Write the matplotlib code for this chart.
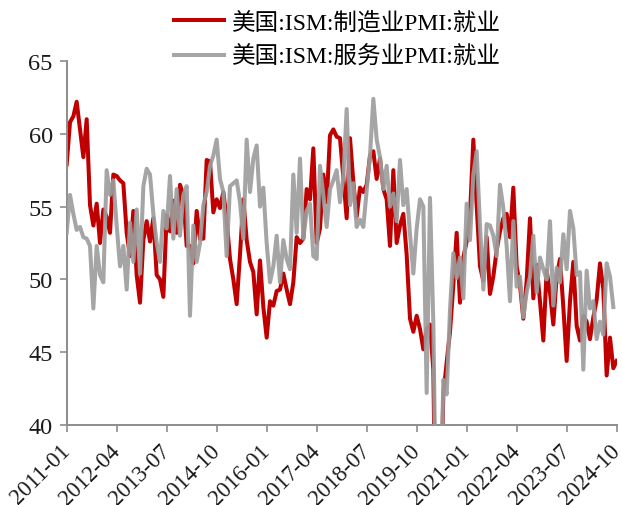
import matplotlib
matplotlib.use("Agg")
import matplotlib.pyplot as plt
import numpy as np

# ISM employment sub-indices, monthly from 2011-01
mfg_emp = [
    57.9, 60.8, 61.2, 62.2, 60.3, 58.4, 61.0, 55.1, 53.7, 55.2, 52.5, 54.8,
    54.3, 53.2, 57.2, 57.1, 56.8, 56.6, 53.2, 51.6, 54.7, 50.3, 48.4, 52.7,
    54.0, 52.6, 54.2, 50.3, 50.0, 48.8, 54.4, 53.3, 55.4, 53.2, 56.5, 55.8,
    52.3, 52.3, 51.1, 54.7, 52.8, 52.8, 58.2, 58.1, 54.6, 55.5, 54.9, 56.0,
    54.1, 51.4, 50.0, 48.3, 51.7, 55.5, 52.7, 51.2, 50.5, 47.6, 51.3, 48.1,
    46.0, 48.5, 48.2, 49.2, 49.3, 50.4, 49.3, 48.3, 49.8, 52.9, 52.5, 52.8,
    56.2, 55.5, 59.0, 52.5, 53.5, 57.2, 55.3, 59.9, 60.3, 59.8, 59.7, 57.0,
    54.2, 59.7, 56.7, 54.3, 56.3, 56.0, 56.5, 58.5, 58.8, 56.9, 58.3, 56.2,
    55.5, 52.3, 57.5, 52.5, 53.7, 54.5, 51.7, 47.3, 46.4, 47.5, 46.6, 45.2,
    46.6, 46.9, 43.8, 27.5, 32.1, 42.1, 44.3, 46.4, 49.6, 53.2, 48.4, 51.5,
    52.6, 54.4, 59.6, 55.1, 50.9, 49.9, 52.9, 49.0, 50.2, 52.0, 53.3, 54.2,
    54.5, 52.9, 56.3, 50.9, 49.6, 47.3, 49.9, 54.2, 48.7, 51.0, 48.5, 45.8,
    50.6, 49.1, 46.9, 50.2, 51.4, 48.1, 44.4, 48.5, 51.2, 46.8, 45.8, 47.5,
    47.1, 45.9, 47.4, 48.6, 51.1, 49.3, 43.4, 46.0, 43.9, 44.4,
]
svc_emp = [
    53.2, 55.8, 54.5, 53.4, 53.6, 52.9, 52.8, 52.3, 48.0, 52.3, 50.3, 49.8,
    57.5, 55.8, 56.8, 53.7, 50.9, 52.3, 49.3, 53.9, 51.2, 54.8, 50.4, 56.4,
    57.6, 57.2, 54.5, 52.5, 51.2, 54.7, 53.5, 57.1, 52.8, 56.2, 53.0, 55.8,
    56.4, 47.5, 53.7, 51.2, 52.5, 55.1, 56.0, 57.8, 58.5, 59.6, 56.9, 56.0,
    51.6, 56.4, 56.6, 56.8, 55.3, 52.8, 59.6, 56.0, 58.3, 59.2, 55.0, 56.3,
    52.5, 49.8, 50.9, 53.0, 49.8, 52.7, 51.4, 50.7, 57.2, 53.2, 58.3, 52.8,
    54.7, 55.2, 51.6, 51.4, 57.8, 55.8, 53.6, 56.2, 56.8, 57.5, 55.3, 57.0,
    61.7, 55.1, 56.6, 53.6, 54.1, 53.6, 56.1, 58.5, 62.4, 59.6, 58.4, 56.2,
    57.8, 55.0, 55.9, 54.0, 58.2, 55.1, 56.2, 53.1, 50.4, 53.5, 55.5, 55.0,
    42.2, 55.6, 47.0, 30.0, 31.8, 43.1, 42.1, 47.9, 51.8, 50.1, 51.5, 48.7,
    55.2, 52.7, 57.2, 58.8, 53.7, 49.3, 53.8, 53.7, 53.0, 51.6, 56.5, 54.9,
    52.3, 48.5, 54.0, 49.5, 50.2, 47.4, 49.1, 50.2, 53.0, 49.1, 51.5, 50.7,
    50.0, 54.0, 48.2, 50.8, 49.8, 53.1, 50.7, 54.7, 53.5, 50.3, 50.5, 43.8,
    50.6, 48.0, 48.5, 45.9, 47.1, 46.2, 51.1, 50.2, 48.1,
]
tick_labels = ["2011-01", "2012-04", "2013-07", "2014-10", "2016-01", "2017-04",
               "2018-07", "2019-10", "2021-01", "2022-04", "2023-07", "2024-10"]
yticks = [40, 45, 50, 55, 60, 65]
names = ["美国:ISM:制造业PMI:就业", "美国:ISM:服务业PMI:就业"]

serif = "Liberation Serif"
mixed = ["Liberation Serif", "Noto Sans CJK SC"]
axis_grey = "#8c8c8c"

fig = plt.figure(figsize=(6.22, 5.06), dpi=100)
ax = fig.add_axes([0.1072, 0.1581, 0.8842, 0.7194])

x_mfg = np.arange(len(mfg_emp))
x_svc = np.arange(len(svc_emp))
l1, = ax.plot(x_mfg, mfg_emp, color="#c00000", lw=2.9, solid_joinstyle="round", zorder=2)
l2, = ax.plot(x_svc, svc_emp, color="#9d9d9d", lw=2.9, alpha=0.92,
              solid_joinstyle="round", zorder=3)

ax.set_xlim(0, 165)
ax.set_ylim(40, 65)
ax.set_yticks(yticks)
ax.set_yticklabels([str(v) for v in yticks], fontfamily=serif, fontsize=17.5, color="#1a1a1a")
ax.set_xticks(np.arange(0, 166, 15))
ax.set_xticklabels(tick_labels, rotation=45, ha="right", va="center",
                   rotation_mode="anchor", fontfamily=serif, fontsize=16.5, color="#1a1a1a")

for side in ("top", "right"):
    ax.spines[side].set_visible(False)
for side in ("left", "bottom"):
    ax.spines[side].set_color(axis_grey)
    ax.spines[side].set_linewidth(1.4)
ax.tick_params(axis="both", direction="out", length=5, width=1.2, color=axis_grey)
ax.tick_params(axis="x", pad=11)
ax.tick_params(axis="y", pad=5)

fig.legend([l1, l2], names, loc="upper left", bbox_to_anchor=(0.245, 1.018),
           frameon=False, prop={"family": mixed, "size": 17},
           handlelength=2.15, handletextpad=0.3, labelspacing=0.52)

fig.savefig("out.png", dpi=100)
